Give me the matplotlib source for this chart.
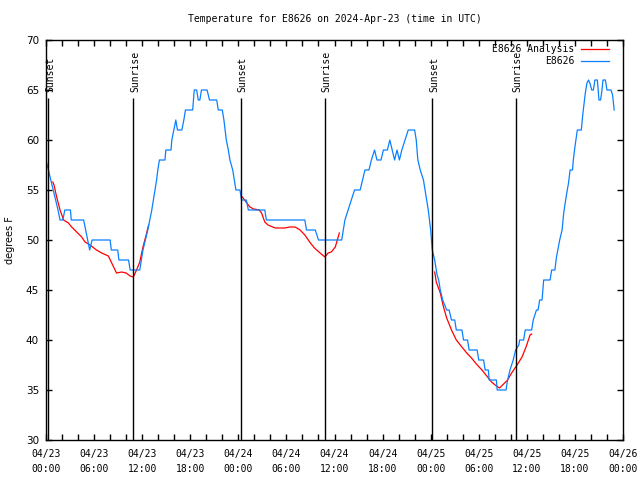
import numpy as np
import matplotlib
matplotlib.use("Agg")
import matplotlib.pyplot as plt

# hours since 2024-04-23 00:00 UTC, temperature in F
obs_hours = [0.0, 0.3, 0.6, 0.9, 1.2, 1.5, 1.75, 2.1, 2.35, 3.05, 3.15, 4.7, 4.95, 5.2, 5.45, 5.75,
             8.0, 8.15, 8.95, 9.1, 10.3, 10.5, 11.7, 11.9, 12.1, 12.4, 12.7, 12.95, 13.2, 13.4, 13.6,
             13.8, 13.95, 14.15, 14.85, 14.95, 15.6, 15.7, 15.95, 16.2, 16.4, 16.95, 17.2, 17.4, 18.3,
             18.5, 18.8, 19.0, 19.2, 19.4, 20.1, 20.4, 21.3, 21.5, 22.0, 22.2, 22.5, 22.75, 22.95, 23.3,
             23.5, 23.7, 24.2, 24.4, 25.0, 25.25, 27.3, 27.5, 32.3, 32.5, 33.6, 34.0, 36.9, 37.1, 37.3,
             37.7, 38.1, 38.5, 39.2, 39.5, 39.8, 40.3, 40.6, 41.0, 41.3, 41.8, 42.1, 42.6, 42.9, 43.2,
             43.5, 43.8, 44.1, 44.4, 44.8, 45.2, 46.0, 46.2, 46.4, 46.7, 47.1, 47.5, 47.7, 48.0, 48.2,
             48.5, 48.8, 49.0, 49.2, 49.5, 50.0, 50.3, 50.6, 51.0, 51.2, 51.9, 52.1, 52.6, 52.8, 53.8,
             54.0, 54.6, 54.8, 55.2, 55.3, 56.2, 56.3, 57.4, 57.6, 57.9, 58.3, 58.6, 59.0, 59.1, 59.6,
             59.8, 60.6, 60.8, 61.2, 61.4, 61.6, 61.9, 62.0, 62.1, 62.9, 63.1, 63.5, 63.7, 64.1, 64.4,
             64.6, 64.9, 65.2, 65.4, 65.7, 65.8, 66.0, 66.3, 66.8, 67.0, 67.3, 67.5, 67.7, 67.9, 68.1,
             68.3, 68.5, 68.8, 69.0, 69.2, 69.35, 69.5, 69.8, 70.0, 70.5, 70.7, 70.9]
obs_temps = [58, 57, 56, 55, 54, 53, 52, 52, 53, 53, 52, 52, 51, 50, 49, 50,
             50, 49, 49, 48, 48, 47, 47, 48, 49, 50, 51, 52, 53, 54, 55,
             56, 57, 58, 58, 59, 59, 60, 61, 62, 61, 61, 62, 63, 63,
             65, 65, 64, 64, 65, 65, 64, 64, 63, 63, 62, 60, 59, 58, 57,
             56, 55, 55, 54, 54, 53, 53, 52, 52, 51, 51, 50, 50, 51, 52,
             53, 54, 55, 55, 56, 57, 57, 58, 59, 58, 58, 59, 59, 60, 59,
             58, 59, 58, 59, 60, 61, 61, 60, 58, 57, 56, 54, 53, 51, 49,
             48, 46.5, 46, 45, 44, 43, 43, 42, 42, 41, 41, 40, 40, 39, 39,
             38, 38, 37, 37, 36, 36, 35, 35, 36, 37, 38, 39, 39.5, 40, 40,
             41, 41, 42, 43, 43, 44, 44, 45, 46, 46, 47, 47, 48.3, 50, 51,
             52.7, 54.3, 55.7, 57, 57, 58, 59.3, 61, 61, 62.7, 64.7, 65.7, 66, 65.6, 65,
             65, 66, 66, 64, 64, 64.8, 66, 66, 65, 65, 64.5, 63]

ana1_hours = [0.85, 1.0, 1.33, 1.75, 2.2, 2.8, 3.2, 3.83, 4.45, 4.87, 5.5, 6.3, 6.95, 7.78, 8.2, 8.8,
              9.44, 10.0, 10.5, 10.9, 11.3, 11.7, 12.1, 12.5, 12.8]
ana1_temps = [55.8, 55.5, 54.3, 53, 52, 51.7, 51.3, 50.8, 50.3, 49.8, 49.5, 49, 48.7, 48.4, 47.7, 46.7,
              46.8, 46.7, 46.4, 46.3, 47, 47.8, 49.3, 50.5, 51.5]
ana2_hours = [24.5, 24.96, 25.45, 25.9, 26.6, 26.9, 27.3, 27.7, 28.6, 29.8, 30.4, 31.1, 31.7, 32.3, 32.9,
              33.5, 34.2, 34.8, 35.2, 35.6, 36.1, 36.6]
ana2_temps = [54.3, 53.8, 53.3, 53.1, 53, 52.7, 51.8, 51.5, 51.2, 51.2, 51.3, 51.3, 51, 50.5, 49.8,
              49.2, 48.7, 48.3, 48.7, 48.8, 49.3, 50.7]
ana3_hours = [48.5, 48.7, 49.2, 49.6, 50.0, 50.6, 51.2, 51.9, 52.5, 53.1, 53.7, 54.4, 55.0, 55.6, 56.2,
              56.6, 57.1, 57.6, 58.1, 58.7, 59.4, 59.9, 60.4, 60.6]
ana3_temps = [46.8, 45.8, 44.7, 43.3, 42.2, 41, 40, 39.3, 38.7, 38.2, 37.6, 37, 36.4, 35.8, 35.4,
              35.2, 35.6, 36, 36.7, 37.4, 38.3, 39.3, 40.5, 40.6]

sunset_hours = [0.25, 24.3, 48.2]
sunrise_hours = [10.9, 34.8, 58.65]

tick_hours = list(range(0, 73, 6))
tick_labels = ['04/23\n00:00', '04/23\n06:00', '04/23\n12:00', '04/23\n18:00',
               '04/24\n00:00', '04/24\n06:00', '04/24\n12:00', '04/24\n18:00',
               '04/25\n00:00', '04/25\n06:00', '04/25\n12:00', '04/25\n18:00',
               '04/26\n00:00']

mono = 'DejaVu Sans Mono'
fig = plt.figure(figsize=(6.4, 4.8), dpi=100)
ax = fig.add_axes([46/640, 40/480, 577/640, 400/480])

# analysis segments joined with gaps
ana_h = ana1_hours + [np.nan] + ana2_hours + [np.nan] + ana3_hours
ana_t = ana1_temps + [np.nan] + ana2_temps + [np.nan] + ana3_temps
ax.plot(ana_h, ana_t, color='#ff0000', lw=0.9, label='E8626 Analysis')
ax.plot(obs_hours, obs_temps, color='#0a80ff', lw=0.9, label='E8626')

for h in sunset_hours:
    ax.vlines(h, 30, 64.2, color='black', lw=1)
    ax.text(h + 0.25, 64.8, 'Sunset', rotation=90, ha='center', va='bottom', family=mono, fontsize=7)
for h in sunrise_hours:
    ax.vlines(h, 30, 64.2, color='black', lw=1)
    ax.text(h + 0.2, 64.8, 'Sunrise', rotation=90, ha='center', va='bottom', family=mono, fontsize=7)

ax.set_xlim(0, 72)
ax.set_ylim(30, 70)
ax.set_xticks(tick_hours)
ax.set_xticklabels(tick_labels, family=mono, fontsize=7, linespacing=1.6)
ax.set_xticks(range(0, 73, 2), minor=True)
ax.set_yticks(range(30, 71, 5))
ax.tick_params(axis='both', which='both', direction='in', length=4, width=1,
               top=True, right=True)
ax.tick_params(axis='x', which='major', pad=6.5)
ax.tick_params(axis='y', labelsize=7.5, pad=5)
for s in ax.spines.values():
    s.set_linewidth(1)

ax.set_ylabel('degrees F', fontsize=7)
ax.yaxis.set_label_coords(-31/577, 0.5)
ax.text(0.5, 1.0525, 'Temperature for E8626 on 2024-Apr-23 (time in UTC)', transform=ax.transAxes,
        ha='center', va='center', family=mono, fontsize=7)

leg = ax.legend(loc='upper right', bbox_to_anchor=(0.976, 0.99), frameon=False, markerfirst=False,
                prop={'family': mono, 'size': 7}, handlelength=2.9, handletextpad=0.7,
                labelspacing=0.2, borderpad=0, borderaxespad=0)

fig.savefig('out.png', dpi=100)
